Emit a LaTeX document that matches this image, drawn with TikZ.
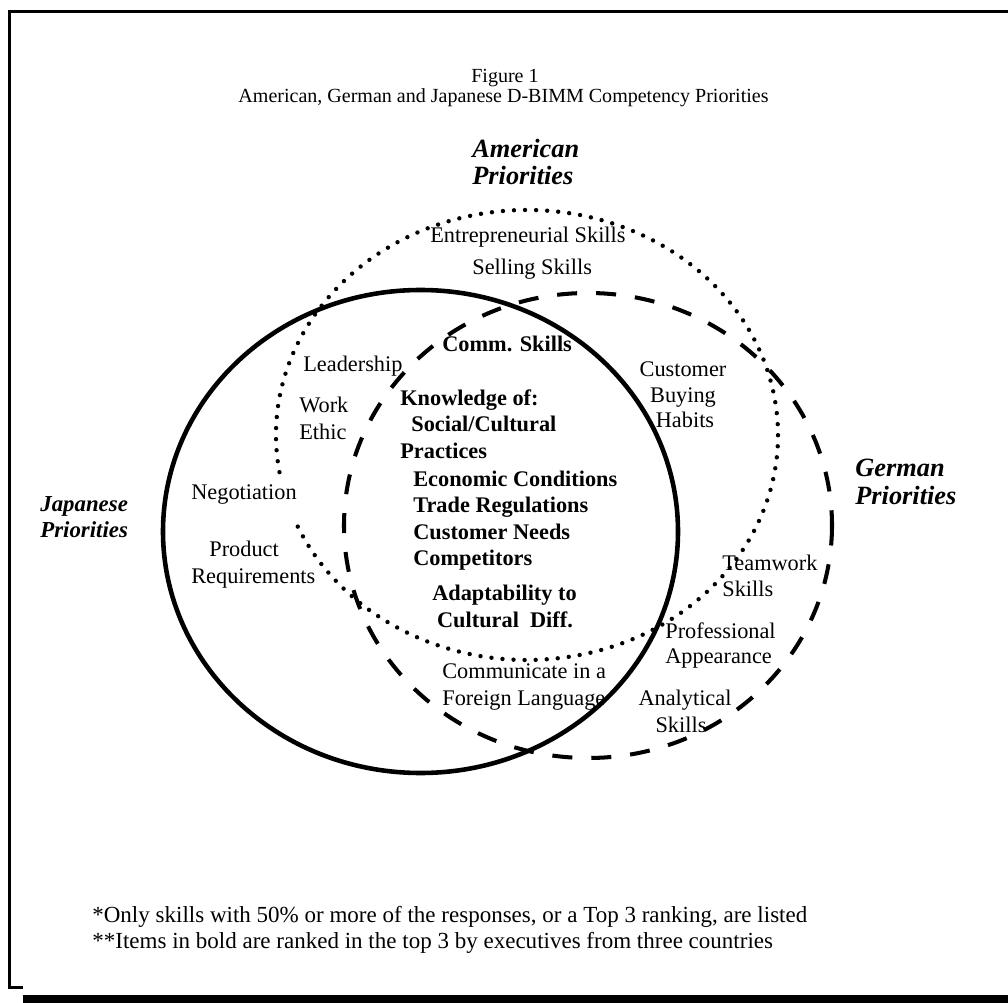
\documentclass[tikz,border=0pt]{standalone}
\usepackage{fontspec}
\setmainfont{Liberation Serif}

\tikzset{
  txt/.style={inner sep=0pt, anchor=base west, font=\fontsize{12.7}{15}\selectfont},
  boldtxt/.style={txt, font=\fontsize{12.7}{15}\selectfont\bfseries},
  midtxt/.style={txt, anchor=base},
  country/.style={inner sep=0pt, anchor=base west, font=\fontsize{15}{17}\selectfont\bfseries\itshape},
  smallcountry/.style={country, font=\fontsize{13}{15}\selectfont\bfseries\itshape},
  titletxt/.style={inner sep=0pt, anchor=base, font=\fontsize{11.4}{13}\selectfont},
  notetxt/.style={inner sep=0pt, anchor=base west, font=\fontsize{13.1}{15}\selectfont},
  japline/.style={line width=2.6pt},
  gerline/.style={line width=2.3pt, dash pattern=on 11.4pt off 10.8pt},
  amline/.style={line width=2.5pt, line cap=round, dash pattern=on 0pt off 6.3pt},
}

\begin{document}
\begin{tikzpicture}[x=0.02cm, y=-0.02cm]
  \useasboundingbox (0,0) rectangle (1008,1003);
  % Rahmen mit Schatten
  \draw[line width=1.7pt] (1008,11.5) -- (9.5,11.5) -- (9.5,987.5) -- (23,987.5);
  \fill (23,994.5) rectangle (1008,1003);

  % Titel
  \node[titletxt] (fig) at (505,83) {Figure 1};
  \node[titletxt] (title) at (503.5,103) {American, German and Japanese D-BIMM Competency Priorities};

  % Die drei Bereiche
  \draw[japline] (420.5,531.5) ellipse [x radius=257.5, y radius=241.5];
  \draw[gerline] (588,525.5) ellipse [x radius=244, y radius=232.5];
  % gepunktet, mit Luecke bei "Negotiation"
  \draw[amline] (527,435) ++(170.5:251 and 225)
        arc [start angle=170.5, end angle=518.6, x radius=251, y radius=225];

  % Laendernamen
  \node[country] (am1) at (472,158) {American};
  \node[country] (am2) at (472,185) {Priorities};
  \node[smallcountry] (jp1) at (40,512) {Japanese};
  \node[smallcountry] (jp2) at (40,538) {Priorities};
  \node[country] (de1) at (855,477) {German};
  \node[country] (de2) at (855,505) {Priorities};

  % nur amerikanisch
  \node[txt] (entre) at (430,243) {Entrepreneurial Skills};
  \node[txt] (sell) at (472,275) {Selling Skills};

  % amerikanisch + japanisch
  \node[txt] (lead) at (303,372) {Leadership};
  \node[txt] (work) at (299,413) {Work};
  \node[txt] (ethic) at (299,440) {Ethic};

  % amerikanisch + deutsch
  \node[midtxt] (cust) at (683,377) {Customer};
  \node[midtxt] (buy) at (683,403) {Buying};
  \node[midtxt] (habit) at (685,428) {Habits};
  \node[txt] (team) at (722,570) {Teamwork};
  \node[txt] (teamsk) at (722,597) {Skills};

  % alle drei
  \node[boldtxt] (comm) at (442,352) {Comm. Skills};
  \node[boldtxt] (know) at (400,406) {Knowledge of:};
  \node[boldtxt] (soc) at (411,432) {Social/Cultural};
  \node[boldtxt] (prac) at (400,459) {Practices};
  \node[boldtxt] (econ) at (413,487) {Economic Conditions};
  \node[boldtxt] (trade) at (413,513) {Trade Regulations};
  \node[boldtxt] (needs) at (413,540) {Customer Needs};
  \node[boldtxt] (comp) at (413,565) {Competitors};
  \node[boldtxt, anchor=base] (adapt) at (504.5,601) {Adaptability to};
  \node[boldtxt, anchor=base] (diff) at (505,627) {Cultural\ \ Diff.};

  % nur japanisch
  \node[txt] (nego) at (191,500) {Negotiation};
  \node[txt] (prod) at (209,557) {Product};
  \node[txt] (req) at (191,583) {Requirements};

  % japanisch + deutsch
  \node[txt] (lang1) at (442,678) {Communicate in a};
  \node[txt] (lang2) at (442,705) {Foreign Language};

  % nur deutsch
  \node[txt] (prof) at (665,638) {Professional};
  \node[txt] (appear) at (665,663) {Appearance};
  \node[midtxt] (ana) at (685,705) {Analytical};
  \node[midtxt] (anask) at (681,732) {Skills};

  % Fussnoten
  \node[notetxt] (note1) at (92,922) {*Only skills with 50\% or more of the responses, or a Top 3 ranking, are listed};
  \node[notetxt] (note2) at (92,948) {**Items in bold are ranked in the top 3 by executives from three countries};
\end{tikzpicture}
\end{document}
